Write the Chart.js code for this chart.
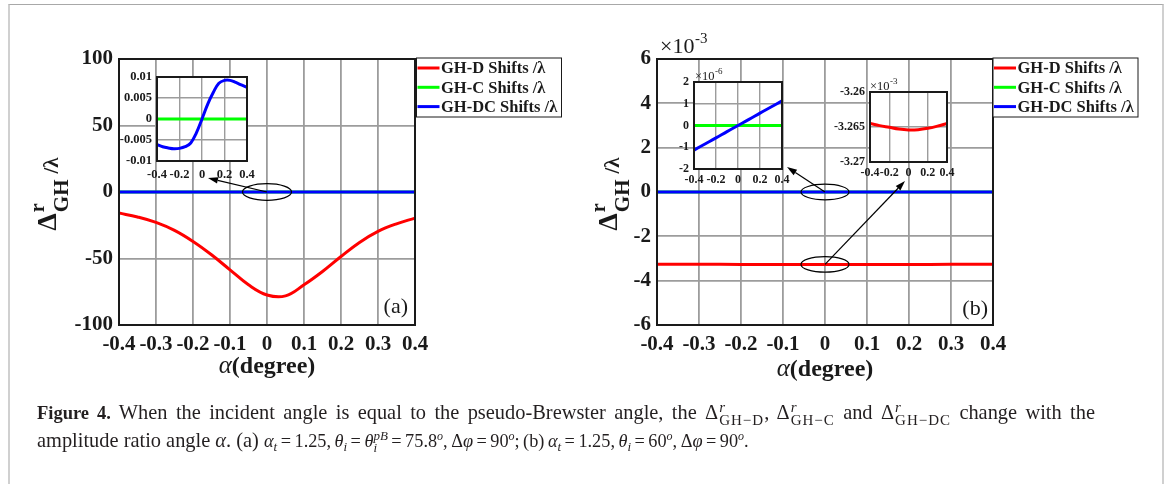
<!DOCTYPE html>
<html>
<head>
<meta charset="utf-8">
<script src="https://cdn.jsdelivr.net/npm/chart.js@4/dist/chart.umd.min.js"></script>
<style>
html,body{margin:0;padding:0;background:#fff;width:1167px;height:484px;overflow:hidden;}
canvas{position:absolute;left:0;top:0;}
#frame{position:absolute;left:8px;top:4px;width:1156px;height:540px;border:2px solid #d0d0d0;border-top:1px solid #a8a8a8;box-sizing:border-box;}
.cap{position:absolute;left:37px;font-family:'Liberation Serif','Times New Roman',serif;font-size:20.4px;line-height:22px;color:#231f20;white-space:nowrap;}
.cap b{font-size:18.5px;}
.just{width:1058px;white-space:normal;text-align:justify;text-align-last:justify;}
.m{font-size:18.3px;word-spacing:-1.1px;}
.ss{display:inline-flex;flex-direction:column;vertical-align:7px;font-size:15px;line-height:13px;margin-left:1px;}
.ss .g{letter-spacing:1px;}
.sb{font-size:13px;vertical-align:-4px;line-height:0;}
.su{font-size:12px;vertical-align:7px;line-height:0;}
</style>
</head>
<body>
<div id="frame"></div>
<canvas id="cA" width="1167" height="484"></canvas>
<canvas id="cB" width="1167" height="484"></canvas>
<canvas id="cIA" width="1167" height="484"></canvas>
<canvas id="cIB1" width="1167" height="484"></canvas>
<canvas id="cIB2" width="1167" height="484"></canvas>
<div class="cap just" style="top:401px"><b>Figure 4.</b> When the incident angle is equal to the pseudo-Brewster angle, the Δ<span class="ss"><i>r</i><span class="g">GH−D</span></span>, Δ<span class="ss"><i>r</i><span class="g">GH−C</span></span> and Δ<span class="ss"><i>r</i><span class="g">GH−DC</span></span> change with the</div>
<div class="cap" style="top:429px">amplitude ratio angle <i>α</i>. (a) <span class="m"><i>α</i><span class="sb"><i>t</i></span> = 1.25, <i>θ</i><span class="sb"><i>i</i></span> = <i>θ</i><span class="ss" style="font-size:13px;line-height:12px;margin-left:0"><i>pB</i><i>i</i></span> = 75.8<span class="su"><i>o</i></span>, Δ<i>φ</i> = 90<span class="su"><i>o</i></span>; (b) <i>α</i><span class="sb"><i>t</i></span> = 1.25, <i>θ</i><span class="sb"><i>i</i></span> = 60<span class="su"><i>o</i></span>, Δ<i>φ</i> = 90<span class="su"><i>o</i></span>.</span></div>
<script>
// ---------------- data ----------------
const alphaA = [-0.4,-0.35,-0.3,-0.25,-0.2,-0.15,-0.1,-0.05,0,0.05,0.1,0.15,0.2,0.25,0.3,0.35,0.4];
const ghD_A  = [-15.8,-18.8,-22.9,-28.9,-37.2,-47.2,-58.5,-69.8,-77.4,-78.1,-69.8,-59.8,-48.5,-37.9,-29.6,-23.9,-19.6];
const ghC_A  = [0,0,0,0,0,0,0,0,0,0,0,0,0,0,0,0,0];
const ghDC_A = [-0.0061,-0.0066,-0.0069,-0.0071,-0.0070,-0.0066,-0.0057,-0.0033,0,0.0035,0.0063,0.0085,0.0092,0.0092,0.0087,0.0081,0.0075];

const alphaB = [-0.4,-0.3,-0.2,-0.1,0,0.1,0.2,0.3,0.4];
const ghD_B  = [-0.0032645,-0.0032648,-0.00326505,-0.0032653,-0.00326542,-0.00326538,-0.00326519,-0.00326488,-0.0032645];
const ghC_B  = [0,0,0,0,0,0,0,0,0];
const ghDC_B = [-1.13e-6,-0.85e-6,-0.57e-6,-0.28e-6,0,0.28e-6,0.57e-6,0.85e-6,1.13e-6];

const seriesLabels = ['GH-D Shifts /λ','GH-C Shifts /λ','GH-DC Shifts /λ'];
const seriesColors = ['#ff0000','#00ff00','#0000ff'];

const xTicksMain  = [-0.4,-0.3,-0.2,-0.1,0,0.1,0.2,0.3,0.4];
const xLabelsMain = ['-0.4','-0.3','-0.2','-0.1','0','0.1','0.2','0.3','0.4'];
const xTicksInset  = [-0.4,-0.2,0,0.2,0.4];
const xLabelsInset = ['-0.4','-0.2','0','0.2','0.4'];
const yTicksA  = [-100,-50,0,50,100];
const yLabelsA = ['-100','-50','0','50','100'];
const yTicksIA  = [-0.01,-0.005,0,0.005,0.01];
const yLabelsIA = ['-0.01','-0.005','0','0.005','0.01'];
const yTicksB  = [-0.006,-0.004,-0.002,0,0.002,0.004,0.006];
const yLabelsB = ['-6','-4','-2','0','2','4','6'];
const yTicksIB1  = [-2e-6,-1e-6,0,1e-6,2e-6];
const yLabelsIB1 = ['-2','-1','0','1','2'];
const yTicksIB2  = [-0.00327,-0.003265,-0.00326];
const yLabelsIB2 = ['-3.27','-3.265','-3.26'];

// ---------------- layout ----------------
const PAGE_W = 1167, PAGE_H = 484;
const FONT = "'Liberation Serif','Times New Roman',serif";
const INK = '#1a1a1a';
const GRID = '#9c9c9c';
const RA   = {l:119, t:59, r:415, b:325};
const RB   = {l:657, t:59, r:993, b:325};
const RIA  = {l:157, t:77, r:247, b:161};
const RIB1 = {l:694, t:82, r:782, b:169};
const RIB2 = {l:870, t:92, r:947, b:162};

function pts(xs, ys){ return xs.map((x,i)=>({x:x, y:ys[i]})); }
function makeDatasets(xs, list){
  return list.map((ys,i)=>({
    label: seriesLabels[i], data: pts(xs, ys),
    borderColor: seriesColors[i], backgroundColor: seriesColors[i],
    borderWidth: 3, pointRadius: 0, tension: 0.4, fill: false, order: 2 - i
  }));
}

const framePlugin = { id:'frameBox', afterDraw(c){
  const a = c.chartArea, x = c.ctx; x.save(); x.strokeStyle = INK; x.lineWidth = 2;
  x.strokeRect(a.left, a.top, a.right - a.left, a.bottom - a.top); x.restore(); } };
const whitePlugin = { id:'whiteBg', beforeDraw(c){
  const a = c.chartArea, x = c.ctx; x.save(); x.fillStyle = '#fff';
  x.fillRect(a.left, a.top, a.right - a.left, a.bottom - a.top); x.restore(); } };

function drawExponent(ctx, x, y, size, exp){
  ctx.save(); ctx.fillStyle = INK; ctx.textBaseline = 'alphabetic'; ctx.textAlign = 'left';
  ctx.font = size + 'px ' + FONT; ctx.fillText('×10', x, y);
  const w = ctx.measureText('×10').width;
  ctx.font = Math.round(size*0.68) + 'px ' + FONT; ctx.fillText(exp, x + w + 0.5, y - size*0.45);
  ctx.restore();
}

function drawLegend(c, dx){
  const ctx = c.ctx, a = c.chartArea;
  const left = a.right + dx, top = a.top - 1, w = 145, h = 59;
  ctx.save();
  ctx.fillStyle = '#fff'; ctx.fillRect(left, top, w, h);
  ctx.strokeStyle = INK; ctx.lineWidth = 1; ctx.strokeRect(left, top, w, h);
  ctx.font = 'bold 16.5px ' + FONT; ctx.textBaseline = 'middle'; ctx.textAlign = 'left';
  c.data.datasets.forEach((ds, i) => {
    const yy = top + 10 + i*19.3;
    ctx.strokeStyle = ds.borderColor; ctx.lineWidth = 3;
    ctx.beginPath(); ctx.moveTo(left + 1, yy); ctx.lineTo(left + 23, yy); ctx.stroke();
    ctx.fillStyle = INK; ctx.fillText(ds.label, left + 24.5, yy + 1);
  });
  ctx.restore();
}

function drawYTitle(c, baseX){
  const ctx = c.ctx, a = c.chartArea;
  ctx.save(); ctx.fillStyle = INK; ctx.textBaseline = 'alphabetic'; ctx.textAlign = 'left';
  const fD = 'bold 28px ' + FONT, fS = 'bold 20px ' + FONT, fG = 'bold 21px ' + FONT, fL = 'bold 21px ' + FONT;
  ctx.font = fD; const wD = ctx.measureText('Δ').width;
  ctx.font = fG; const wG = ctx.measureText('GH').width;
  ctx.font = fL; const wL = ctx.measureText('/λ').width;
  const total = wD + 1 + wG + 6 + wL;
  const midY = (a.top + a.bottom) / 2;
  ctx.translate(baseX, midY + total/2 + 2);
  ctx.rotate(-Math.PI/2);
  ctx.font = fD; ctx.fillText('Δ', 0, 0);
  ctx.font = fS; ctx.fillText('r', wD + 1, -12);
  ctx.font = fG; ctx.fillText('GH', wD + 1, 12);
  ctx.font = fL; ctx.fillText('/λ', wD + 1 + wG + 6, 2);
  ctx.restore();
}

function drawXTitle(c, baseY){
  const ctx = c.ctx, a = c.chartArea;
  ctx.save(); ctx.fillStyle = INK; ctx.textBaseline = 'alphabetic'; ctx.textAlign = 'left';
  const fA = 'italic 25px ' + FONT, fT = 'bold 24px ' + FONT;
  ctx.font = fA; const wA = ctx.measureText('α').width;
  ctx.font = fT; const wT = ctx.measureText('(degree)').width;
  const x0 = (a.left + a.right)/2 - (wA + wT)/2;
  ctx.font = fA; ctx.fillText('α', x0, baseY);
  ctx.font = fT; ctx.fillText('(degree)', x0 + wA, baseY);
  ctx.restore();
}

function drawMarks(c, marks){
  const ctx = c.ctx, sx = c.scales.x, sy = c.scales.y;
  ctx.save(); ctx.strokeStyle = '#000'; ctx.fillStyle = '#000'; ctx.lineWidth = 1.2;
  marks.forEach(m => {
    const cx = sx.getPixelForValue(m.xv), cy = sy.getPixelForValue(m.yv);
    ctx.beginPath(); ctx.ellipse(cx, cy, m.rx, m.ry, 0, 0, Math.PI*2); ctx.stroke();
    const tx = m.to[0], ty = m.to[1];
    const ang = Math.atan2(ty - cy, tx - cx), L = 10, W = 3.2;
    const bx = tx - L*Math.cos(ang), by = ty - L*Math.sin(ang);
    ctx.beginPath(); ctx.moveTo(cx, cy); ctx.lineTo(bx, by); ctx.stroke();
    ctx.beginPath(); ctx.moveTo(tx, ty);
    ctx.lineTo(bx + W*Math.sin(ang), by - W*Math.cos(ang));
    ctx.lineTo(bx - W*Math.sin(ang), by + W*Math.cos(ang));
    ctx.closePath(); ctx.fill();
  });
  ctx.restore();
}

function makeChart(id, rect, cfg){
  return new Chart(document.getElementById(id), {
    type: 'line',
    data: { datasets: cfg.datasets },
    options: {
      responsive: false, animation: false, devicePixelRatio: 1, events: [],
      layout: { padding: { left: 0, top: rect.t, right: PAGE_W - rect.r, bottom: 0 } },
      plugins: { legend: { display: false }, tooltip: { enabled: false } },
      scales: {
        x: {
          type: 'linear', min: -0.4, max: 0.4,
          afterFit(s){ s.height = PAGE_H - rect.b; },
          afterBuildTicks(s){ s.ticks = cfg.xTicks.map(v => ({value: v})); },
          ticks: { autoSkip: false, maxRotation: 0, padding: cfg.xPad, color: INK,
                   font: { family: FONT, weight: 'bold', size: cfg.fs },
                   callback: (v, i) => cfg.xLabels[i] },
          grid: { color: GRID, lineWidth: cfg.gw, drawTicks: false },
          border: { display: false }
        },
        y: {
          type: 'linear', min: cfg.yTicks[0], max: cfg.yTicks[cfg.yTicks.length - 1],
          afterFit(s){ s.width = rect.l; },
          afterBuildTicks(s){ s.ticks = cfg.yTicks.map(v => ({value: v})); },
          ticks: { autoSkip: false, padding: cfg.yPad, color: INK,
                   font: { family: FONT, weight: 'bold', size: cfg.fs },
                   callback: (v, i) => cfg.yLabels[i] },
          grid: { color: GRID, lineWidth: cfg.gw, drawTicks: false },
          border: { display: false }
        }
      }
    },
    plugins: [whitePlugin, framePlugin, {
      id: 'deco_' + id,
      afterDatasetsDraw(c){ if (cfg.marks) drawMarks(c, cfg.marks); },
      afterDraw(c){ if (cfg.deco) cfg.deco(c); }
    }]
  });
}

// ---------------- charts ----------------
makeChart('cA', RA, {
  datasets: makeDatasets(alphaA, [ghD_A, ghC_A, ghDC_A]),
  xTicks: xTicksMain, xLabels: xLabelsMain, yTicks: yTicksA, yLabels: yLabelsA,
  fs: 21, xPad: 7, yPad: 6, gw: 1.8,
  marks: [{xv: 0, yv: 0, rx: 24.5, ry: 8.3, to: [208, 178]}],
  deco(c){
    drawLegend(c, 1.5); drawYTitle(c, 56); drawXTitle(c, 373);
    const ctx = c.ctx; ctx.save(); ctx.fillStyle = INK; ctx.font = '22px ' + FONT;
    ctx.textAlign = 'right'; ctx.fillText('(a)', c.chartArea.right - 7, 313); ctx.restore();
  }
});

makeChart('cB', RB, {
  datasets: makeDatasets(alphaB, [ghD_B, ghC_B, ghDC_B]),
  xTicks: xTicksMain, xLabels: xLabelsMain, yTicks: yTicksB, yLabels: yLabelsB,
  fs: 21, xPad: 7, yPad: 6, gw: 1.8,
  marks: [{xv: 0, yv: 0, rx: 24, ry: 7.8, to: [787, 167]},
          {xv: 0, yv: ghD_B[4], rx: 24, ry: 7.8, to: [905, 181]}],
  deco(c){
    drawLegend(c, 0); drawYTitle(c, 617); drawXTitle(c, 376);
    drawExponent(c.ctx, 660, 53, 22, '-3');
    const ctx = c.ctx; ctx.save(); ctx.fillStyle = INK; ctx.font = '22px ' + FONT;
    ctx.textAlign = 'right'; ctx.fillText('(b)', c.chartArea.right - 5, 315); ctx.restore();
  }
});

makeChart('cIA', RIA, {
  datasets: makeDatasets(alphaA, [ghD_A, ghC_A, ghDC_A]),
  xTicks: xTicksInset, xLabels: xLabelsInset, yTicks: yTicksIA, yLabels: yLabelsIA,
  fs: 12.5, xPad: 6, yPad: 5, gw: 1.4
});

makeChart('cIB1', RIB1, {
  datasets: makeDatasets(alphaB, [ghD_B, ghC_B, ghDC_B]),
  xTicks: xTicksInset, xLabels: xLabelsInset, yTicks: yTicksIB1, yLabels: yLabelsIB1,
  fs: 12, xPad: 4, yPad: 5, gw: 1.4,
  deco(c){ drawExponent(c.ctx, 695, 79.5, 12.5, '-6'); }
});

makeChart('cIB2', RIB2, {
  datasets: makeDatasets(alphaB, [ghD_B, ghC_B, ghDC_B]),
  xTicks: xTicksInset, xLabels: xLabelsInset, yTicks: yTicksIB2, yLabels: yLabelsIB2,
  fs: 12, xPad: 4, yPad: 5, gw: 1.4,
  deco(c){ drawExponent(c.ctx, 870, 90, 12.5, '-3'); }
});
</script>
</body>
</html>
